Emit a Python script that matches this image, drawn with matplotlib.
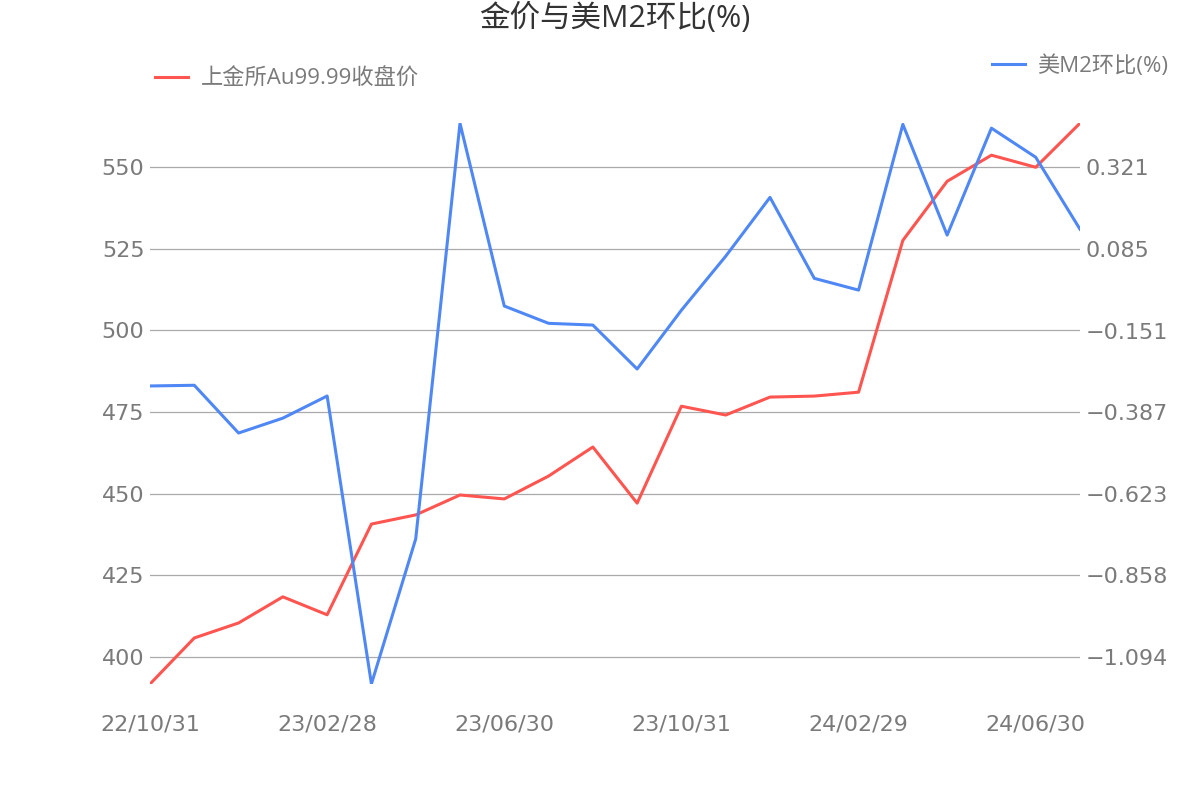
import numpy as np
import pandas as pd
import matplotlib
matplotlib.use('Agg')
import matplotlib.pyplot as plt

# data
dates = pd.date_range('2022-10-31', periods=22, freq='ME')
gold = [391.7, 405.8, 410.4, 418.4, 412.9, 440.7, 443.5, 449.6, 448.4, 455.4, 464.3,
        447.1, 476.8, 474.1, 479.6, 479.9, 481.1, 527.6, 545.7, 553.7, 550.0, 563.5]
m2 = [-0.311, -0.309, -0.447, -0.404, -0.340, -1.172, -0.753, 0.448, -0.080, -0.130, -0.135,
      -0.262, -0.092, 0.064, 0.234, 0.000, -0.034, 0.445, 0.125, 0.434, 0.350, 0.142]
left_ticks = [400, 425, 450, 475, 500, 525, 550]
right_ticks = [-1.094, -0.858, -0.623, -0.387, -0.151, 0.085, 0.321]

red = '#ff5550'
blue = '#4f88f5'
grey = '#7a7a7a'
cjk = ['Open Sans', 'Noto Sans CJK SC', 'DejaVu Sans']

fig = plt.figure(figsize=(12, 8), dpi=100)
ax = fig.add_axes([0.125, 0.145, 0.775, 0.701])
ax2 = ax.twinx()

x = np.arange(len(dates))
ax.plot(x, gold, color=red, lw=2.2, label='上金所Au99.99收盘价')
ax2.plot(x, m2, color=blue, lw=2.2, label='美M2环比(%)')

ax.set_xlim(0, len(dates) - 1)
ax.set_ylim(min(gold), max(gold))

# right axis aligned so its ticks sit on the left gridlines
k = (right_ticks[-1] - right_ticks[0]) / (left_ticks[-1] - left_ticks[0])
lo, hi = ax.get_ylim()
ax2.set_ylim(right_ticks[0] + (lo - left_ticks[0]) * k, right_ticks[0] + (hi - left_ticks[0]) * k)

ax.set_yticks(left_ticks)
ax2.set_yticks(right_ticks)
ax2.set_yticklabels([f'{v:.3f}'.replace('-', '\u2212') for v in right_ticks])

xt = x[::4]
ax.set_xticks(xt)
ax.set_xticklabels([dates[i].strftime('%y/%m/%d') for i in xt])

ax.grid(axis='y', color='#aaaaaa', lw=0.9)
ax.set_axisbelow(True)
for a in (ax, ax2):
    for s in a.spines.values():
        s.set_visible(False)
    a.tick_params(length=0, labelsize=16, labelcolor=grey)
ax.tick_params(axis='x', pad=22)
ax.tick_params(axis='y', pad=4)
ax2.tick_params(axis='y', pad=4)

fig.text(0.512, 1 - 18 / 800, '金价与美M2环比(%)', ha='center', va='center',
         fontsize=22, color='#333333', family=cjk)

leg1 = ax.legend(loc='center left', frameon=False, prop={'family': cjk, 'size': 16}, labelcolor=grey,
                 handlelength=1.5, handletextpad=0.55, borderaxespad=0, borderpad=0)
leg1.set_bbox_to_anchor((155 / 1200, 1 - 79 / 800), transform=fig.transFigure)
leg2 = ax2.legend(loc='center left', frameon=False, prop={'family': cjk, 'size': 16}, labelcolor=grey,
                  handlelength=1.5, handletextpad=0.55, borderaxespad=0, borderpad=0)
leg2.set_bbox_to_anchor((992 / 1200, 1 - 66 / 800), transform=fig.transFigure)

fig.savefig('out.png', dpi=100)
